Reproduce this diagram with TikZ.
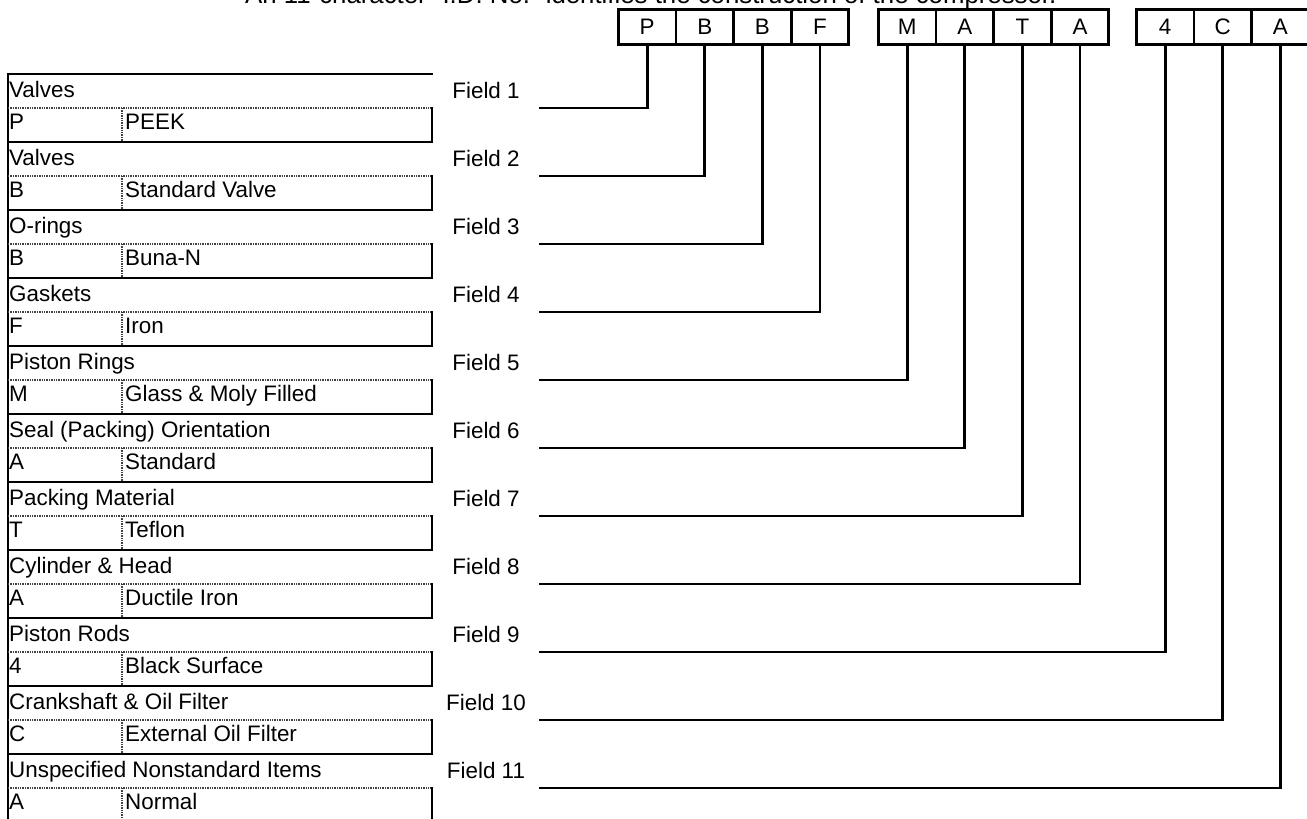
\documentclass[tikz,border=0pt]{standalone}
\usepackage{fontspec}
\setmainfont{Liberation Sans}
\begin{document}
\begin{tikzpicture}[x=1pt,y=-1pt,
  txt/.style={inner sep=0pt,font=\fontsize{22.4}{26}\selectfont},
  thick line/.style={line width=2.8pt,line cap=rect},
  dotline/.style={line width=1.6pt,black!75,dash pattern=on 1.3pt off 1.1pt},
  cell/.style={draw,line width=2.8pt,minimum width=57.6pt,minimum height=35pt,inner sep=0pt,font=\fontsize{22.4}{26}\selectfont},
  conn/.style={line width=2.8pt}]
\useasboundingbox (0,0) rectangle (1307,819);
% title
\node[inner sep=0pt,font=\fontsize{25.8}{30}\selectfont,anchor=base west] (title) at (245,4) {An 11-character "I.D. No." identifies the construction of the compressor.};
% code cells
\foreach \n/\x/\l in {1/617/P,2/674.6/B,3/732.2/B,4/789.8/F,5/877/M,6/934.6/A,7/992.2/T,8/1049.8/A,9/1135/4,10/1192.6/C,11/1250.2/A}{
  \node[cell,anchor=north west] (cell\n) at (\x,8) {\l};
}
% table
\draw[thick line] (8,74) -- (8,830);
\foreach \i/\cat/\code/\desc in {
 1/Valves/P/PEEK,
 2/Valves/B/Standard Valve,
 3/O-rings/B/Buna-N,
 4/Gaskets/F/Iron,
 5/Piston Rings/M/Glass \& Moly Filled,
 6/Seal (Packing) Orientation/A/Standard,
 7/Packing Material/T/Teflon,
 8/Cylinder \& Head/A/Ductile Iron,
 9/Piston Rods/4/Black Surface,
 10/Crankshaft \& Oil Filter/C/External Oil Filter,
 11/Unspecified Nonstandard Items/A/Normal}{
  \pgfmathsetmacro{\t}{74+68*(\i-1)}
  \pgfmathsetmacro{\m}{\t+34}
  \pgfmathsetmacro{\b}{\t+68}
  \draw[thick line] (8,\t) -- (432,\t);
  \draw[dotline] (8,\m) -- (432,\m);
  \draw[dotline] (122,\m) -- (122,\b);
  \draw[thick line] (432,\m) -- (432,\b);
  \node[txt,anchor=base west] (cat\i) at (9,\t+23) {\cat};
  \node[txt,anchor=base west] (code\i) at (9,\m+21) {\code};
  \node[txt,anchor=base west] (desc\i) at (125,\m+21) {\desc};
  \node[txt,anchor=base] (field\i) at (486,\t+24) {Field \i};
  \coordinate (s\i) at (539,\m);
  \draw[conn] (s\i) -| (cell\i.south);
}
\end{tikzpicture}
\end{document}
